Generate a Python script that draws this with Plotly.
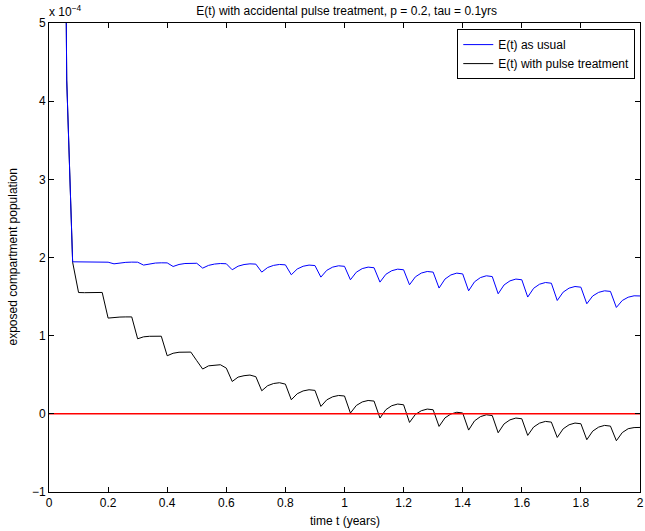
import plotly.graph_objects as go

# time samples (years)
t = [0.04, 0.06, 0.08, 0.10, 0.12, 0.14, 0.16, 0.18, 0.20,
     0.22, 0.24, 0.26, 0.28, 0.30, 0.32, 0.34, 0.36, 0.38, 0.40,
     0.42, 0.44, 0.46, 0.48, 0.50, 0.52, 0.54, 0.56, 0.58, 0.60,
     0.62, 0.64, 0.66, 0.68, 0.70, 0.72, 0.74, 0.76, 0.78, 0.80,
     0.82, 0.84, 0.86, 0.88, 0.90, 0.92, 0.94, 0.96, 0.98, 1.00,
     1.02, 1.04, 1.06, 1.08, 1.10, 1.12, 1.14, 1.16, 1.18, 1.20,
     1.22, 1.24, 1.26, 1.28, 1.30, 1.32, 1.34, 1.36, 1.38, 1.40,
     1.42, 1.44, 1.46, 1.48, 1.50, 1.52, 1.54, 1.56, 1.58, 1.60,
     1.62, 1.64, 1.66, 1.68, 1.70, 1.72, 1.74, 1.76, 1.78, 1.80,
     1.82, 1.84, 1.86, 1.88, 1.90, 1.92, 1.94, 1.96, 1.98, 2.00]

# E(t) as usual, in units of 1e-4
e_usual = [14.0, 4.27, 1.945, 1.943, 1.942, 1.942, 1.941, 1.941, 1.940,
           1.919, 1.932, 1.938, 1.941, 1.940,
           1.903, 1.920, 1.929, 1.932, 1.931,
           1.885, 1.911, 1.923, 1.928, 1.926,
           1.864, 1.899, 1.916, 1.923, 1.920,
           1.843, 1.889, 1.910, 1.919, 1.915,
           1.813, 1.872, 1.899, 1.911, 1.906,
           1.779, 1.853, 1.888, 1.903, 1.897,
           1.749, 1.836, 1.877, 1.894, 1.887,
           1.715, 1.812, 1.858, 1.877, 1.869,
           1.685, 1.785, 1.831, 1.851, 1.843,
           1.651, 1.753, 1.801, 1.821, 1.813,
           1.609, 1.724, 1.777, 1.800, 1.790,
           1.574, 1.689, 1.743, 1.766, 1.756,
           1.536, 1.649, 1.701, 1.724, 1.715,
           1.494, 1.606, 1.658, 1.680, 1.671,
           1.450, 1.557, 1.608, 1.629, 1.620,
           1.408, 1.508, 1.554, 1.574, 1.566,
           1.361, 1.450, 1.492, 1.510, 1.508]

# E(t) with pulse treatment, in units of 1e-4
e_pulse = [14.0, 4.27, 1.940, 1.552, 1.550, 1.552, 1.553, 1.553,
           1.225, 1.235, 1.238, 1.240, 1.240,
           0.960, 0.985, 0.992, 0.994, 0.993,
           0.743, 0.775, 0.788, 0.792, 0.790, 0.680,
           0.573, 0.614, 0.625, 0.628, 0.585,
           0.414, 0.470, 0.488, 0.496, 0.475,
           0.295, 0.360, 0.388, 0.398, 0.380,
           0.180, 0.257, 0.293, 0.308, 0.300,
           0.095, 0.179, 0.218, 0.235, 0.228,
           0.010, 0.107, 0.152, 0.171, 0.163,
           -0.054, 0.053, 0.104, 0.125, 0.116,
           -0.110, -0.007, 0.040, 0.061, 0.052,
           -0.161, -0.052, -0.002, 0.020, 0.011,
           -0.208, -0.090, -0.036, -0.012, -0.022,
           -0.242, -0.129, -0.077, -0.054, -0.063,
           -0.276, -0.169, -0.119, -0.097, -0.106,
           -0.302, -0.192, -0.140, -0.118, -0.127,
           -0.331, -0.221, -0.170, -0.148, -0.157,
           -0.344, -0.240, -0.190, -0.176, -0.174]

zero_x = [0, 2]
zero_y = [0, 0]

x_ticks = [0, 0.2, 0.4, 0.6, 0.8, 1, 1.2, 1.4, 1.6, 1.8, 2]
x_labels = ["0", "0.2", "0.4", "0.6", "0.8", "1", "1.2", "1.4", "1.6", "1.8", "2"]
y_ticks = [-1, 0, 1, 2, 3, 4, 5]
y_labels = ["\u22121", "0", "1", "2", "3", "4", "5"]

FONT = "Liberation Sans, Arial, Helvetica, sans-serif"

fig = go.Figure()
fig.add_trace(go.Scatter(x=t, y=e_pulse, mode="lines", name="E(t) with pulse treatment",
                         line=dict(color="black", width=1), legendrank=2))
fig.add_trace(go.Scatter(x=t, y=e_usual, mode="lines", name="E(t) as usual",
                         line=dict(color="#0000ff", width=1), legendrank=1))
fig.add_trace(go.Scatter(x=zero_x, y=zero_y, mode="lines", showlegend=False,
                         line=dict(color="#ff0000", width=1.5)))

axis_common = dict(showline=True, linecolor="black", linewidth=1, mirror="ticks",
                   ticks="inside", ticklen=5, tickcolor="black", showgrid=False,
                   zeroline=False, tickfont=dict(size=12, color="black", family=FONT))

fig.update_layout(
    width=645, height=531,
    margin=dict(l=49, r=1, t=23, b=39),
    paper_bgcolor="white", plot_bgcolor="white",
    font=dict(family=FONT, size=12, color="black"),
    title=dict(text="E(t) with accidental pulse treatment, p = 0.2, tau = 0.1yrs",
               x=0.5375, xanchor="center", y=1 - 11 / 531, yanchor="middle",
               font=dict(size=12, color="black")),
    xaxis=dict(range=[0, 2], tickvals=x_ticks, ticktext=x_labels,
               ticklabeloverflow="allow", **axis_common),
    yaxis=dict(range=[-1, 5], tickvals=y_ticks, ticktext=y_labels, **axis_common),
    legend=dict(x=0.992, xanchor="right", y=0.987, yanchor="top",
                bordercolor="black", borderwidth=1, bgcolor="white",
                font=dict(size=12, color="black"), tracegroupgap=0,
                itemwidth=30),
    annotations=[
        dict(text="time t (years)", xref="paper", yref="paper", x=0.5, y=0,
             yshift=-29, xanchor="center", yanchor="middle", showarrow=False,
             font=dict(size=12, color="black")),
        dict(text="exposed compartment population", xref="paper", yref="paper",
             x=0, y=0.5, xshift=-37, xanchor="center", yanchor="middle",
             textangle=-90, showarrow=False, font=dict(size=12, color="black")),
        dict(text="x 10<sup>\u22124</sup>", xref="paper", yref="paper", x=0, y=1,
             xshift=-2, yshift=2, xanchor="left", yanchor="bottom", showarrow=False,
             font=dict(size=12, color="black")),
    ],
)

fig.write_html("out.html")
